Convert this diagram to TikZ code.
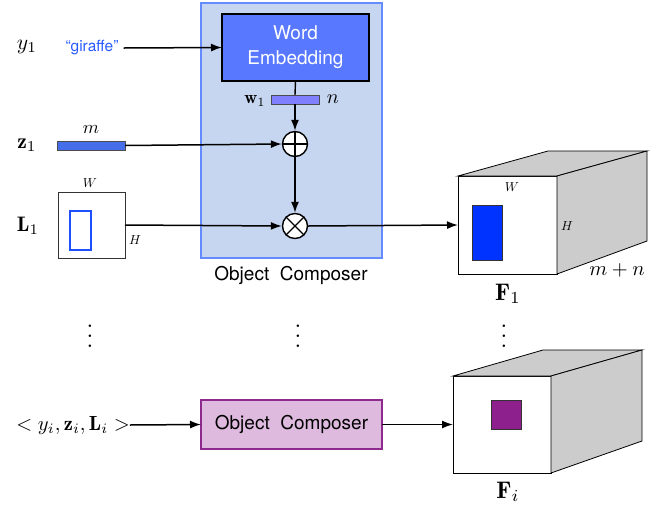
\documentclass[tikz,border=0pt]{standalone}
\usepackage{graphicx}
\usepackage{fontspec}
\setsansfont{TeX Gyre Heros}
\usetikzlibrary{arrows.meta}
\definecolor{panelfill}{RGB}{198,214,240}
\definecolor{panelborder}{RGB}{100,140,255}
\definecolor{wefill}{RGB}{88,120,255}
\definecolor{wbar}{RGB}{128,128,255}
\definecolor{zbar}{RGB}{70,110,235}
\definecolor{lblue}{RGB}{30,80,255}
\definecolor{fblue}{RGB}{0,51,255}
\definecolor{purpfill}{RGB}{222,186,222}
\definecolor{purpborder}{RGB}{142,42,142}
\definecolor{purpsq}{RGB}{142,32,142}
\definecolor{sidegray}{RGB}{204,204,204}
\definecolor{girblue}{RGB}{40,90,255}
\newcommand{\mysc}[2]{\scalebox{#1}{$#2$}}
\tikzset{
  box/.style={rectangle, inner sep=0pt, outer sep=0pt},
  mathlbl/.style={inner sep=0pt, font=\fontsize{10}{12}\selectfont},
  sanslbl/.style={inner sep=0pt, font=\sffamily\fontsize{19}{25}\selectfont, align=center},
  arr/.style={line width=1.5pt, -{Latex[length=11pt,width=8pt]}},
  op/.style={circle, draw=black, line width=1.4pt, fill=white, minimum size=25pt, inner sep=0pt},
  cubeface/.style={draw=black, line width=0.8pt, fill=sidegray},
  front/.style={box, draw=black, line width=0.8pt, fill=white},
}
\begin{document}
\begin{tikzpicture}[x=1pt,y=-1pt]
\useasboundingbox (0,0) rectangle (657,507);

% Object composer panel
\node[box, draw=panelborder, line width=1.5pt, fill=panelfill, minimum width=181pt, minimum height=255pt] (panel) at (291.5,130.5) {};
\node[sanslbl] (panelcap) at (291,275) {Object\ \ Composer};

% Word embedding
\node[box, draw=black, line width=1.5pt, fill=wefill, minimum width=147pt, minimum height=67pt, sanslbl, text=white] (we) at (295.5,47.5) {Word\\Embedding};

% w1 bar
\node[box, draw=black!70, line width=0.6pt, fill=wbar, minimum width=48pt, minimum height=9pt] (wbar) at (295,99.5) {};
\node[mathlbl] (wlbl) at (255,101) {\mysc{1.8}{\mathbf{w}_1}};
\node[mathlbl] (nlbl) at (333,99) {\mysc{2.0}{n}};

% operators
\node[op] (plus) at (295,144) {};
\draw[line width=1.4pt] (plus.north) -- (plus.south) (plus.west) -- (plus.east);
\node[op] (times) at (295,226) {};
\draw[line width=1.4pt] (times.north west) -- (times.south east) (times.north east) -- (times.south west);

% inputs
\node[mathlbl] (y1) at (27,47) {\mysc{2.15}{y_1}};
\node[inner sep=0pt, font=\sffamily\fontsize{15.5}{18}\selectfont, text=girblue] (gir) at (92,48) {``giraffe''};
\node[mathlbl] (z1) at (27,145) {\mysc{2.15}{\mathbf{z}_1}};
\node[box, draw=black!70, line width=0.6pt, fill=zbar, minimum width=68pt, minimum height=9pt] (zbar) at (91,145.5) {};
\node[mathlbl] (mlbl) at (91,130) {\mysc{1.85}{m}};
\node[mathlbl] (l1) at (28,226) {\mysc{2.1}{\mathbf{L}_1}};
\node[box, draw=black!80, line width=0.8pt, fill=white, minimum width=67pt, minimum height=66pt] (lbox) at (91.5,225) {};
\node[box, draw=lblue, line width=1.2pt, minimum width=21pt, minimum height=39pt] (lrect) at (80.5,230.5) {};
\node[mathlbl] (lW) at (90,183) {\mysc{1.3}{W}};
\node[mathlbl] (lH) at (135,240) {\mysc{1.3}{H}};

% F1 cube
\node[front, minimum width=99pt, minimum height=98pt] (f1) at (507.5,225) {};
\coordinate (f1tl) at (548,151);
\coordinate (f1tr) at (647,151);
\coordinate (f1br) at (647,241);
\draw[cubeface] (f1.north west) -- (f1tl) -- (f1tr) -- (f1.north east) -- cycle;
\draw[cubeface] (f1.north east) -- (f1tr) -- (f1br) -- (f1.south east) -- cycle;
\node[box, draw=black!80, line width=0.6pt, fill=fblue, minimum width=30pt, minimum height=55pt] (f1rect) at (487,232.5) {};
\node[mathlbl] (fW) at (512,187) {\mysc{1.3}{W}};
\node[mathlbl] (fH) at (567,226) {\mysc{1.3}{H}};
\node[mathlbl] (mn) at (617,270) {\mysc{2.05}{m+n}};
\node[mathlbl] (f1lbl) at (508,294) {\mysc{2.4}{\mathbf{F}_1}};

% connectors top
\draw[arr] (gir.east) ++(5pt,0) coordinate (girout) -- (we.west);
\draw[line width=1.4pt] (we.south) -- (wbar.north);
\draw[arr] (wbar.south) -- (plus.north);
\draw[arr] (zbar.east) -- (plus.west);
\draw[arr] (plus.south) -- (times.north);
\draw[arr] (lbox.east) -- (times.west);
\draw[arr] (times.east) -- (f1.west);

% dots
\node[mathlbl] (d1) at (90,329) {\mysc{2.4}{\vdots}};
\node[mathlbl] (d2) at (298,329) {\mysc{2.4}{\vdots}};
\node[mathlbl] (d3) at (504,329) {\mysc{2.4}{\vdots}};

% bottom row
\node[mathlbl] (inp) at (73,425) {\mysc{2.05}{<y_i,\mathbf{z}_i,\mathbf{L}_i>}};
\node[box, draw=purpborder, line width=1.3pt, fill=purpfill, minimum width=181pt, minimum height=49pt, sanslbl] (oc) at (291.5,424.5) {Object\ \ Composer};

\node[front, minimum width=98pt, minimum height=97pt] (fi) at (502,424.5) {};
\coordinate (fitl) at (543,350);
\coordinate (fitr) at (642,350);
\coordinate (fibr) at (642,441);
\draw[cubeface] (fi.north west) -- (fitl) -- (fitr) -- (fi.north east) -- cycle;
\draw[cubeface] (fi.north east) -- (fitr) -- (fibr) -- (fi.south east) -- cycle;
\node[box, draw=black!80, line width=0.6pt, fill=purpsq, minimum width=30pt, minimum height=29pt] (fisq) at (506,414.5) {};
\node[mathlbl] (filbl) at (508,492) {\mysc{2.4}{\mathbf{F}_i}};

\draw[arr] (inp.east) -- (oc.west);
\draw[arr] (oc.east) -- (fi.west);
\end{tikzpicture}
\end{document}
